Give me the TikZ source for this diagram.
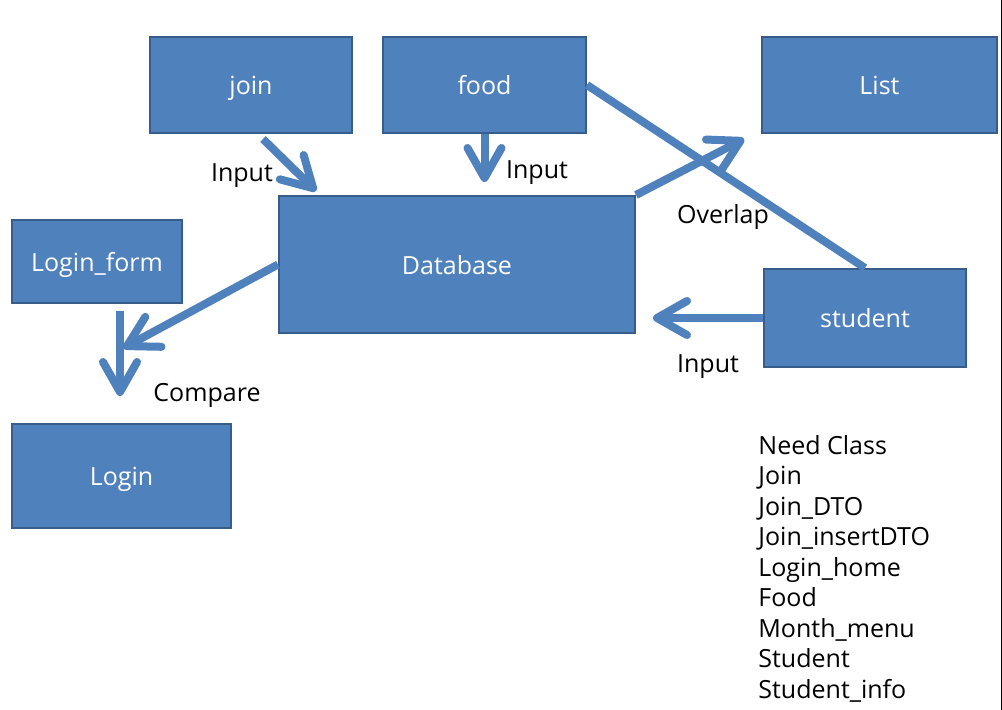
\documentclass[tikz,border=0pt]{standalone}
\usepackage{fontspec}
\setmainfont{Open Sans}
\usetikzlibrary{arrows.meta, positioning, calc}
\definecolor{boxblue}{HTML}{4F81BD}
\definecolor{boxline}{HTML}{385D8A}
\tikzstyle{box} = [rectangle, draw=boxline, fill=boxblue, line width=1pt, text=white, minimum width=101pt, minimum height=48pt, inner sep=0pt, text height=12pt, text depth=2pt]
\tikzstyle{link} = [draw=boxblue, line width=4pt]
\tikzstyle{arrow} = [link, -{Straight Barb[length=15pt,width=17pt,round]}]
\tikzstyle{lbl} = [text=black, inner sep=0pt]

\begin{document}
\begin{tikzpicture}[x=0.5pt, y=-0.5pt, every node/.style={font=\fontsize{12.5pt}{15.25pt}\selectfont}]
\useasboundingbox (0,0) rectangle (1002,710);
\fill[white] (0,0) rectangle (1002,710);
\draw[black, line width=0.6pt] (1001.3,0) -- (1001.3,710);

\node(join)[box] at (251,85) {join};
\node(food)[box, minimum width=101.5pt, right=14.5pt of join] {food};
\node(list)[box, minimum width=117.5pt] at (879.5,85) {List};
\node(db)[box, minimum width=178pt, minimum height=68.5pt] at (457,264.5) {Database};
\node(stud)[box, minimum height=49pt] at (865,318) {student};
\node(lform)[box, minimum width=85pt, minimum height=41.5pt] at (97,261.5) {Login\_form};
\node(login)[box, minimum width=109.5pt, minimum height=52pt, below=59.5pt of lform.south west, anchor=north west] {Login};

\node(in1)[lbl] at (242,176) {Input};
\node(in2)[lbl] at (537,173) {Input};
\node(ovl)[lbl] at (723,217) {Overlap};
\node(in3)[lbl] at (708,367) {Input};
\node(cmp)[lbl] at (207,395) {Compare};
\node(need)[lbl, align=left, anchor=north west] at (758,435) {Need Class\\Join\\Join\_DTO\\Join\_insertDTO\\Login\_home\\Food\\Month\_menu\\Student\\Student\_info};

\draw [arrow] ($(join.south)+(12,5)$) -- ($(db.north west)+(38,-4)$);
\draw [arrow] (food.south) -- ($(food.south |- db.north)+(0,-13)$);
\draw [arrow] (db.north east) -- ($(list.south west)+(-17,5)$);
\draw [link] (food.east) -- (stud.north);
\draw [arrow] (stud.west) -- ($(stud.west -| db.east)+(17,0)$);
\draw [arrow] (db.west) -- ($(login.north)+(2,-75)$);
\draw [arrow] ($(lform.south)+(23,7)$) -- ($(login.north)+(-1.5,-27)$);

\end{tikzpicture}
\end{document}
